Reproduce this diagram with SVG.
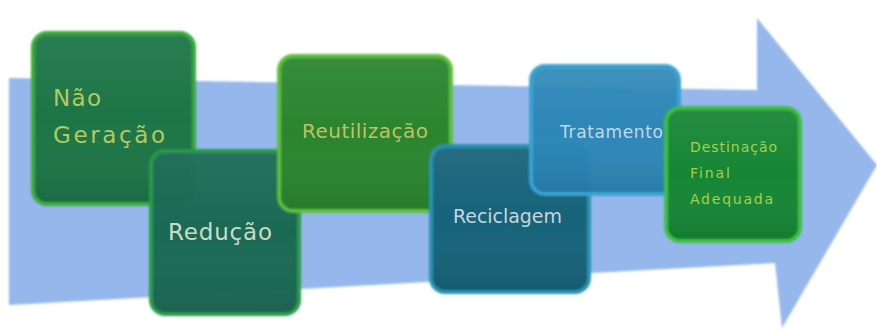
<svg xmlns="http://www.w3.org/2000/svg" width="877" height="331" viewBox="0 0 877 331">
  <style>
    .box { stroke-width: 4; }
    .lbl { font-family: "DejaVu Sans", "Liberation Sans", sans-serif; }
  </style>
  <defs>
    <linearGradient id="gloss" x1="0" y1="0" x2="0" y2="1">
      <stop offset="0" stop-color="#ffffff" stop-opacity="0.06"/>
      <stop offset="0.5" stop-color="#ffffff" stop-opacity="0"/>
      <stop offset="1" stop-color="#000000" stop-opacity="0.08"/>
    </linearGradient>
    <filter id="soft" x="-10%" y="-10%" width="120%" height="120%">
      <feGaussianBlur stdDeviation="0.9"/>
    </filter>
  </defs>

  <rect width="877" height="331" fill="#ffffff"/>

  <g id="arrow">
    <polygon points="9,78 757,90 757,18 877,165 782,328 775,263 9,305" fill="#95b7eb" filter="url(#soft)"/>
  </g>

  <g id="nao-geracao">
    <rect class="box" x="33" y="33" width="161" height="171" rx="14" fill="#1d7546" stroke="#3aab3c" filter="url(#soft)"/>
    <rect x="35" y="35" width="157" height="167" rx="12" fill="url(#gloss)"/>
    <text class="lbl" x="53" y="106" font-size="23" fill="#b8c95c" textLength="48" lengthAdjust="spacing">Não</text>
    <text class="lbl" x="53" y="143" font-size="23" fill="#b8c95c" textLength="112" lengthAdjust="spacing">Geração</text>
  </g>

  <g id="reducao">
    <rect class="box" x="151" y="151" width="148" height="163" rx="14" fill="#156650" fill-opacity="0.97" stroke="#2b9a48" filter="url(#soft)"/>
    <rect x="153" y="153" width="144" height="159" rx="12" fill="url(#gloss)"/>
    <text class="lbl" x="168" y="240" font-size="23" fill="#c9dcc5" textLength="104" lengthAdjust="spacing">Redução</text>
  </g>

  <g id="reutilizacao">
    <rect class="box" x="279" y="56" width="172" height="155" rx="14" fill="#2b852d" stroke="#5cc03c" filter="url(#soft)"/>
    <rect x="281" y="58" width="168" height="151" rx="12" fill="url(#gloss)"/>
    <text class="lbl" x="302" y="138" font-size="20" fill="#c2c262" textLength="126" lengthAdjust="spacing">Reutilização</text>
  </g>

  <g id="reciclagem">
    <rect class="box" x="431" y="146" width="158" height="146" rx="14" fill="#19647a" stroke="#2a92b2" filter="url(#soft)"/>
    <rect x="433" y="148" width="154" height="142" rx="12" fill="url(#gloss)"/>
    <text class="lbl" x="453" y="223" font-size="19" fill="#c6d6de" textLength="109" lengthAdjust="spacing">Reciclagem</text>
  </g>

  <g id="tratamento">
    <rect class="box" x="531" y="66" width="148" height="128" rx="14" fill="#2884b4" fill-opacity="0.95" stroke="#3aa3d2" filter="url(#soft)"/>
    <rect x="533" y="68" width="144" height="124" rx="12" fill="url(#gloss)"/>
    <text class="lbl" x="560" y="138" font-size="17" fill="#c2d9e8" textLength="103" lengthAdjust="spacing">Tratamento</text>
  </g>

  <g id="destinacao">
    <rect class="box" x="666" y="108" width="134" height="133" rx="14" fill="#178636" stroke="#3cc044" filter="url(#soft)"/>
    <rect x="668" y="110" width="130" height="129" rx="12" fill="url(#gloss)"/>
    <text class="lbl" x="690" y="152" font-size="14" fill="#a8d04a" textLength="87" lengthAdjust="spacing">Destinação</text>
    <text class="lbl" x="690" y="178" font-size="14" fill="#a8d04a" textLength="40" lengthAdjust="spacing">Final</text>
    <text class="lbl" x="690" y="204" font-size="14" fill="#a8d04a" textLength="83" lengthAdjust="spacing">Adequada</text>
  </g>
</svg>
